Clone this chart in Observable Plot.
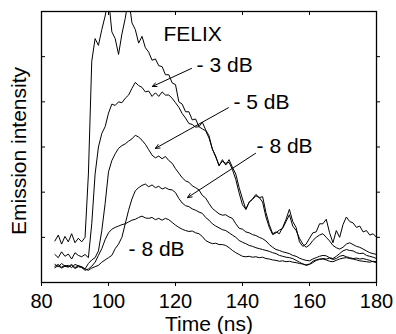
<!DOCTYPE html>
<html><head><meta charset="utf-8">
<script src="https://cdn.jsdelivr.net/npm/d3@7"></script>
<script src="https://cdn.jsdelivr.net/npm/@observablehq/plot@0.6"></script>
<style>
html,body{margin:0;padding:0;background:#fff;}
</style></head><body><div id="chart"></div>
<script>
const times = [84,85,86,87,88,89,90,91,92,93,
  94,95,96,97,98,99,100,101,102,103,
  104,105,106,107,108,109,110,111,112,113,
  114,115,116,117,118,119,120,121,122,123,
  124,125,126,127,128,129,130,131,132,133,
  134,135,136,137,138,139,140,141,142,143,
  144,145,146,147,148,149,150,151,152,153,
  154,155,156,157,158,159,160,161,162,163,
  164,165,166,167,168,169,170,171,172,173,
  174,175,176,177,178,179,180];

const felix = [0.92,1.05,0.85,1.02,0.9,1.08,0.88,0.98,0.9,1.0,
  2.4,4.9,5.4,5.25,5.6,5.9,6.3,5.55,5.4,5.05,
  5.5,5.85,6.3,5.75,5.6,5.3,5.45,5.2,5.1,4.92,
  4.95,4.8,4.78,4.6,4.6,4.42,4.38,4.0,3.95,3.78,
  3.78,3.6,3.62,3.45,3.55,3.38,3.25,2.95,2.8,2.58,
  2.72,2.6,2.72,2.55,2.4,2.1,1.85,1.62,1.78,1.85,
  1.95,1.88,1.9,1.55,1.28,1.08,1.12,1.08,1.22,1.4,
  1.62,1.35,1.22,0.9,0.8,0.85,0.98,1.1,1.12,1.3,
  1.3,1.4,1.1,0.88,1.15,1.0,1.28,1.45,1.35,1.32,
  1.22,1.25,1.12,1.15,1.05,1.08,1.0];

const db3 = [0.62,0.55,0.68,0.58,0.63,0.52,0.66,0.6,0.57,0.62,
  0.55,1.3,2.4,3.0,3.3,3.45,3.75,3.95,3.92,4.0,
  3.98,4.08,4.15,4.3,4.43,4.36,4.32,4.22,4.24,4.12,
  4.2,4.12,4.22,4.15,4.15,4.08,3.98,3.88,3.74,3.64,
  3.52,3.5,3.44,3.45,3.4,3.36,3.2,2.96,2.78,2.6,
  2.68,2.64,2.66,2.5,2.28,1.98,1.72,1.62,1.78,1.84,
  1.92,1.88,1.78,1.45,1.22,1.06,1.1,1.16,1.2,1.35,
  1.5,1.25,1.15,0.98,0.85,0.78,0.83,0.93,1.0,1.05,
  1.08,1.0,0.92,0.82,0.77,0.74,0.78,0.85,0.88,0.84,
  0.8,0.78,0.74,0.7,0.66,0.64,0.62];

const db5 = [0.4,0.35,0.42,0.36,0.38,0.33,0.4,0.37,0.35,0.3,
  0.42,0.5,0.55,0.7,1.15,1.75,2.45,2.7,2.85,2.97,
  3.03,3.07,3.13,3.18,3.26,3.22,3.15,3.06,2.94,2.82,
  2.76,2.8,2.74,2.79,2.7,2.64,2.52,2.42,2.32,2.25,
  2.22,2.14,2.1,2.05,1.93,1.87,1.75,1.64,1.58,1.52,
  1.49,1.5,1.45,1.42,1.3,1.2,1.18,1.12,1.1,1.06,
  1.04,1.0,0.97,0.92,0.84,0.78,0.73,0.71,0.68,0.66,
  0.64,0.6,0.58,0.54,0.51,0.49,0.48,0.52,0.55,0.58,
  0.6,0.59,0.55,0.53,0.58,0.64,0.7,0.73,0.71,0.7,
  0.66,0.64,0.65,0.6,0.58,0.56,0.53];

const db8a = [0.36,0.4,0.34,0.38,0.35,0.4,0.33,0.37,0.34,0.3,
  0.27,0.32,0.35,0.38,0.45,0.5,0.55,0.6,0.75,0.85,
  1.0,1.3,1.6,1.85,2.03,2.1,2.15,2.18,2.12,2.16,
  2.1,2.13,2.07,2.1,2.06,2.05,1.99,1.86,1.76,1.7,
  1.68,1.63,1.6,1.56,1.53,1.44,1.38,1.3,1.25,1.21,
  1.17,1.15,1.1,1.05,1.0,0.93,0.89,0.86,0.82,0.8,
  0.77,0.75,0.73,0.71,0.69,0.66,0.64,0.6,0.58,0.56,
  0.55,0.53,0.49,0.45,0.41,0.38,0.4,0.44,0.49,0.51,
  0.53,0.52,0.54,0.51,0.53,0.58,0.6,0.57,0.55,0.53,
  0.54,0.52,0.53,0.51,0.49,0.46,0.44];

const db8b = [0.33,0.37,0.32,0.36,0.34,0.38,0.31,0.35,0.33,0.27,
  0.3,0.36,0.45,0.6,0.75,0.95,1.1,1.18,1.22,1.25,
  1.28,1.3,1.34,1.38,1.4,1.44,1.47,1.43,1.42,1.44,
  1.39,1.42,1.38,1.42,1.39,1.33,1.27,1.22,1.18,1.15,
  1.13,1.14,1.1,1.08,1.02,0.93,0.89,0.86,0.87,0.84,
  0.84,0.82,0.77,0.71,0.66,0.62,0.58,0.57,0.58,0.56,
  0.57,0.55,0.56,0.53,0.52,0.5,0.49,0.47,0.48,0.46,
  0.47,0.45,0.44,0.42,0.41,0.39,0.41,0.47,0.5,0.52,
  0.52,0.5,0.47,0.46,0.49,0.52,0.54,0.55,0.53,0.52,
  0.5,0.48,0.47,0.46,0.45,0.47,0.46];

const seriesNames = ["FELIX", "-3 dB", "-5 dB", "-8 dB (a)", "-8 dB (b)"];
const seriesValues = [felix, db3, db5, db8a, db8b];

const xTicks = [80, 100, 120, 140, 160, 180];
const yTicks = [1, 2, 3, 4, 5];

const labelText = ["FELIX", "- 3 dB", "- 5 dB", "- 8 dB", "- 8 dB"];
const labelT = [116.4, 126.3, 137.3, 144.2, 106.0];
const labelV = [5.49, 4.815, 4.0, 3.01, 0.74];

const arrowT1 = [124.8, 135.8, 143.9];
const arrowV1 = [4.74, 3.87, 2.86];
const arrowT2 = [113.1, 114.0, 123.6];
const arrowV2 = [4.34, 2.97, 1.88];

const rows = [];
seriesValues.forEach((arr, k) => arr.forEach((v, i) => rows.push({series: seriesNames[k], t: times[i], v})));
const labels = labelText.map((text, i) => ({text, t: labelT[i], v: labelV[i]}));
const arrows = arrowT1.map((t1, i) => ({t1, v1: arrowV1[i], t2: arrowT2[i], v2: arrowV2[i]}));

const chart = Plot.plot({
  width: 396, height: 334,
  marginLeft: 41, marginRight: 20, marginTop: 11, marginBottom: 52,
  x: {domain: [80, 180]},
  y: {domain: [0, 6], axis: null},
  style: {fontFamily: "Arial, 'Liberation Sans', sans-serif", color: "#000", background: "#fff"},
  marks: [
    Plot.line(rows, {x: "t", y: "v", z: "series", stroke: "#000", strokeWidth: 1, clip: true}),
    Plot.arrow(arrows, {x1: "t1", y1: "v1", x2: "t2", y2: "v2", stroke: "#000", strokeWidth: 1, headLength: 7, headAngle: 50}),
    Plot.text(labels, {x: "t", y: "v", text: "text", textAnchor: "start", lineAnchor: "middle", fontSize: 21, fill: "#000"}),
    Plot.frame({stroke: "#000", strokeWidth: 1.3}),
    Plot.axisX({ticks: xTicks, tickSize: 4, tickPadding: 7, fontSize: 20, label: null, stroke: "#000", fill: "#000"}),
    Plot.tickX(xTicks, {x: d => d, insetBottom: 267, stroke: "#000"}),
    Plot.tickY(yTicks, {y: d => d, insetRight: 331, stroke: "#000"}),
    Plot.tickY(yTicks, {y: d => d, insetLeft: 335, insetRight: -4, stroke: "#000"}),
    Plot.text(["Time (ns)"], {frameAnchor: "bottom", textAnchor: "middle", lineAnchor: "bottom", dy: 48, fontSize: 21, fill: "#000"}),
    Plot.text(["Emission intensity"], {frameAnchor: "left", textAnchor: "middle", rotate: -90, lineAnchor: "bottom", dx: -16, dy: 4, fontSize: 21, fill: "#000"})
  ]
});
document.getElementById("chart").appendChild(chart);
</script>
</body></html>
